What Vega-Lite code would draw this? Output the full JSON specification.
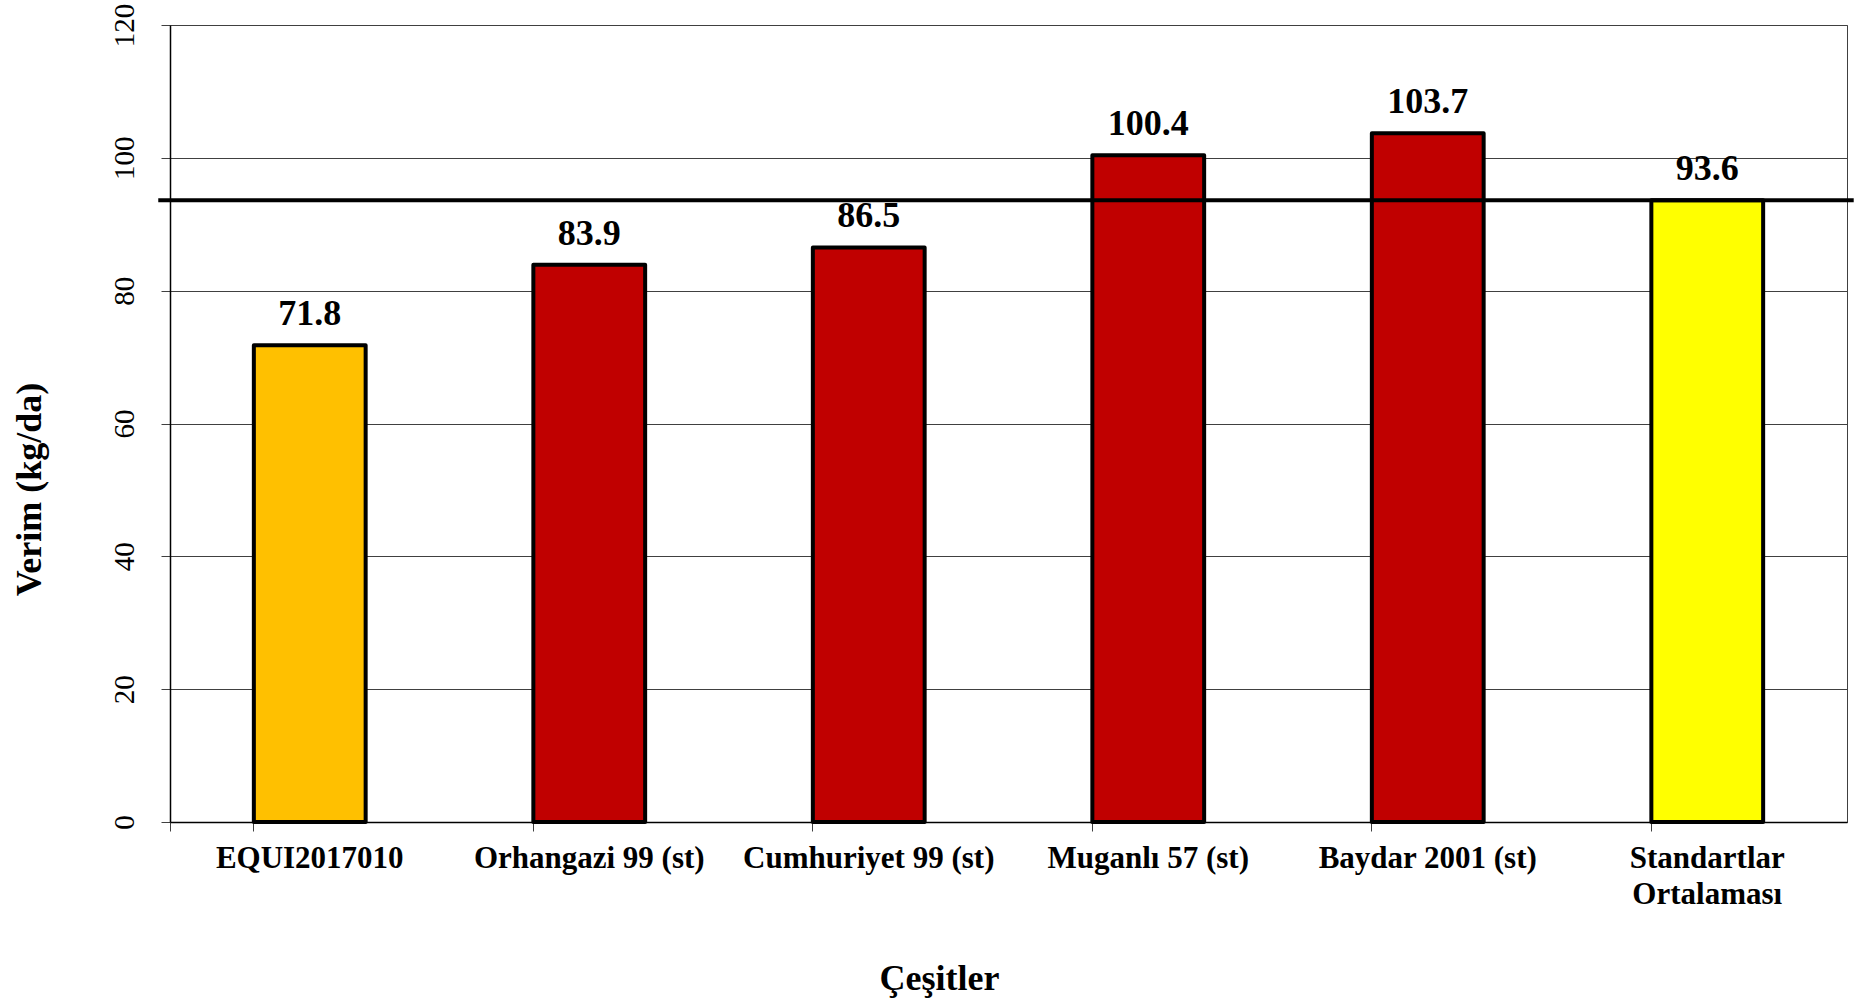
{
  "$schema": "https://vega.github.io/schema/vega-lite/v6.json",
  "width": 1677,
  "height": 797,
  "autosize": {"type": "none"},
  "padding": {"left": 170, "top": 25, "right": 24, "bottom": 181},
  "background": "white",
  "config": {
    "font": "Liberation Serif",
    "view": {"stroke": "#404040", "strokeWidth": 1}
  },
  "data": {
    "values": [
      {"cesit": "EQUI2017010", "verim": 71.8, "grup": "EQUI"},
      {"cesit": "Orhangazi 99 (st)", "verim": 83.9, "grup": "st"},
      {"cesit": "Cumhuriyet 99 (st)", "verim": 86.5, "grup": "st"},
      {"cesit": "Muganlı 57 (st)", "verim": 100.4, "grup": "st"},
      {"cesit": "Baydar 2001 (st)", "verim": 103.7, "grup": "st"},
      {"cesit": "Standartlar Ortalaması", "verim": 93.6, "grup": "ort"}
    ]
  },
  "layer": [
    {
      "layer": [
        {
          "mark": {"type": "bar", "stroke": "black", "strokeWidth": 4, "strokeJoin": "round"},
          "encoding": {
            "x": {
              "field": "cesit", "type": "nominal", "sort": null,
              "scale": {"paddingInner": 0.6, "paddingOuter": 0.3},
              "axis": {
                "title": "Çeşitler",
                "titleFont": "Liberation Serif", "titleFontSize": 36, "titleFontWeight": "bold", "titleColor": "black",
                "titlePadding": 52, "titleX": 769, "titleAlign": "center", "titleAnchor": null,
                "labelAngle": 0, "labelFont": "Liberation Serif", "labelFontSize": 31, "labelFontWeight": "bold", "labelColor": "black",
                "labelPadding": 12, "labelLineHeight": 36, "labelLimit": 0,
                "labelExpr": "datum.label == 'Standartlar Ortalaması' ? ['Standartlar', 'Ortalaması'] : datum.label",
                "bandPosition": 0, "tickExtra": true,
                "tickSize": 9, "tickColor": "#404040", "domainColor": "black", "domainWidth": 1.5,
                "grid": false
              }
            },
            "y": {
              "field": "verim", "type": "quantitative",
              "scale": {"domain": [0, 120], "nice": false},
              "axis": {
                "title": "Verim (kg/da)",
                "titleFont": "Liberation Serif", "titleFontSize": 36, "titleFontWeight": "bold", "titleColor": "black",
                "titlePadding": 62, "titleY": 464, "titleAlign": "center", "titleAnchor": null,
                "values": [0, 20, 40, 60, 80, 100, 120],
                "labelAngle": 270, "labelFont": "Liberation Serif", "labelFontSize": 29, "labelFontWeight": "normal", "labelColor": "black",
                "labelPadding": 22,
                "tickSize": 9, "tickColor": "#404040", "domainColor": "black", "domainWidth": 1.5,
                "grid": true, "gridColor": "#404040", "gridWidth": 1
              }
            },
            "color": {
              "field": "grup", "type": "nominal",
              "scale": {"domain": ["EQUI", "st", "ort"], "range": ["#FFC000", "#C00000", "#FFFF00"]},
              "legend": null
            }
          }
        },
        {
          "mark": {"type": "text", "baseline": "alphabetic", "dy": -20, "font": "Liberation Serif", "fontSize": 36, "fontWeight": "bold", "color": "black"},
          "encoding": {
            "x": {"field": "cesit", "type": "nominal", "sort": null},
            "y": {"field": "verim", "type": "quantitative"},
            "text": {"field": "verim", "type": "quantitative", "format": ".1f"}
          }
        }
      ]
    },
    {
      "transform": [{"filter": "datum.grup == 'ort'"}],
      "mark": {"type": "rule", "color": "black", "strokeWidth": 4},
      "encoding": {
        "y": {"field": "verim", "type": "quantitative"},
        "x": {"datum": -0.007, "type": "quantitative", "scale": {"domain": [0, 1], "nice": false, "zero": false}, "axis": null},
        "x2": {"datum": 1.004}
      }
    }
  ],
  "resolve": {"scale": {"x": "independent"}, "axis": {"x": "independent"}}
}
